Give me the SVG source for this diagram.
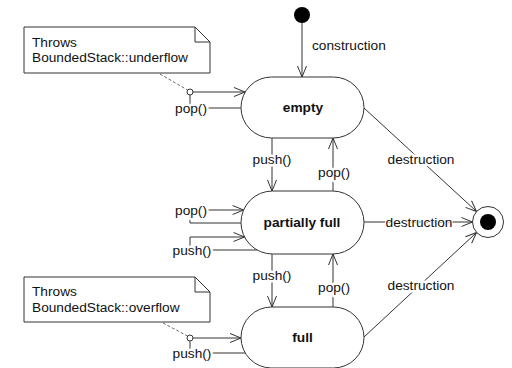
<svg xmlns="http://www.w3.org/2000/svg" width="512" height="368" viewBox="0 0 512 368">
<defs>
<style>
.ln{stroke:#333;stroke-width:1;fill:none}
.dash{stroke:#444;stroke-width:0.8;fill:none;stroke-dasharray:3,2}
.st{fill:#fff;stroke:#333;stroke-width:1}
.t{font-family:"Liberation Sans",Arial,sans-serif;font-size:13.7px;fill:#111}
.b{font-weight:bold;text-anchor:middle}
.lb{text-anchor:middle;paint-order:stroke;stroke:#fff;stroke-width:5px;stroke-linejoin:round}
.thin{stroke-width:2px}
</style>
<marker id="arr" markerUnits="userSpaceOnUse" markerWidth="12" markerHeight="12" refX="11" refY="5" orient="auto" overflow="visible">
<path d="M0,0.5 L11,5 L0,9.5" fill="none" stroke="#333" stroke-width="1"/>
</marker>
</defs>
<rect width="512" height="368" fill="#fff"/>
<g id="connectors">
<line class="ln" x1="302" y1="23" x2="302" y2="77" marker-end="url(#arr)"/>
<line class="ln" x1="364" y1="108" x2="476.6" y2="211.5" marker-end="url(#arr)"/>
<line class="ln" x1="364" y1="222" x2="472.5" y2="222" marker-end="url(#arr)"/>
<line class="ln" x1="364" y1="337" x2="476.6" y2="232.5" marker-end="url(#arr)"/>
<line class="ln" x1="272" y1="138" x2="272" y2="191" marker-end="url(#arr)"/>
<line class="ln" x1="333" y1="191" x2="333" y2="138" marker-end="url(#arr)"/>
<line class="ln" x1="272" y1="254" x2="272" y2="307" marker-end="url(#arr)"/>
<line class="ln" x1="333" y1="307" x2="333" y2="254" marker-end="url(#arr)"/>
<polyline class="ln" points="241,108 190,108 190,92 245,92" marker-end="url(#arr)"/>
<polyline class="ln" points="241,223 190,223 190,210 243.6,210" marker-end="url(#arr)"/>
<polyline class="ln" points="257,250 190,250 190,237 244.5,237" marker-end="url(#arr)"/>
<polyline class="ln" points="245,353 190,353 190,338 241,338" marker-end="url(#arr)"/>
<line class="dash" x1="160" y1="74" x2="187.5" y2="90"/>
<line class="dash" x1="163" y1="323" x2="187.5" y2="336"/>
<circle cx="190" cy="92" r="3" class="st" stroke-width="0.8"/>
<circle cx="190" cy="338" r="3" class="st" stroke-width="0.8"/>
<text class="t" x="312" y="50">construction</text>
<text class="t lb" x="421" y="164">destruction</text>
<text class="t lb thin" x="419" y="227">destruction</text>
<text class="t lb" x="421" y="290">destruction</text>
<text class="t lb" x="272" y="164">push()</text>
<text class="t lb" x="334" y="177">pop()</text>
<text class="t lb" x="272" y="280">push()</text>
<text class="t lb" x="334" y="292">pop()</text>
<text class="t lb" x="191" y="113">pop()</text>
<text class="t lb" x="191" y="215">pop()</text>
<text class="t lb" x="192" y="255">push()</text>
<text class="t lb" x="192" y="358">push()</text>
</g>
<g id="initial"><circle cx="302" cy="15" r="8" fill="#000"/></g>
<g id="empty"><rect class="st" x="241" y="77" width="123" height="61" rx="30.5"/><text class="t b" x="303" y="112">empty</text></g>
<g id="partially-full"><rect class="st" x="241" y="191" width="123" height="63" rx="31.5"/><text class="t b" x="302" y="227">partially full</text></g>
<g id="full"><rect class="st" x="241" y="307" width="123" height="61" rx="30.5"/><text class="t b" x="302.5" y="342">full</text></g>
<g id="final"><circle cx="488" cy="222" r="15.5" class="st"/><circle cx="488" cy="222" r="8" fill="#000"/></g>
<g id="note-underflow">
<path class="st" d="M24,27 H195 L210,42 V73 H24 Z"/>
<path class="ln" d="M195,27 V42 H210" stroke-width="0.8"/>
<text class="t" x="32" y="47">Throws</text>
<text class="t" x="32" y="62">BoundedStack::underflow</text>
</g>
<g id="note-overflow">
<path class="st" d="M24,277 H195 L210,292 V322 H24 Z"/>
<path class="ln" d="M195,277 V292 H210" stroke-width="0.8"/>
<text class="t" x="32" y="296">Throws</text>
<text class="t" x="32" y="312">BoundedStack::overflow</text>
</g>
</svg>
